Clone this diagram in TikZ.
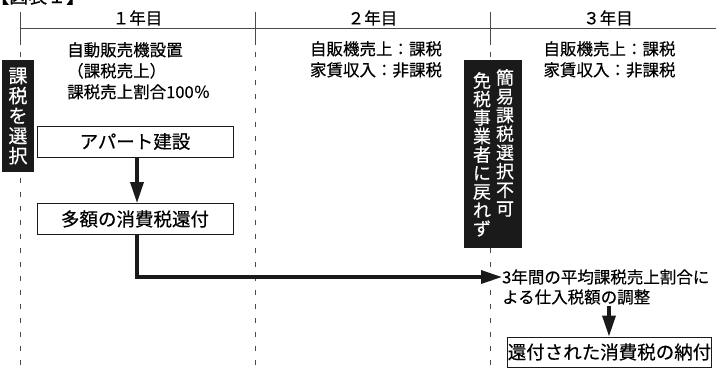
\documentclass[tikz,border=0pt]{standalone}
\usepackage{fontspec}
\setmainfont{Noto Sans CJK JP}[FakeBold=0.35]
\usetikzlibrary{arrows.meta}
\definecolor{ink}{HTML}{1A1A1A}
\definecolor{rule}{HTML}{4A4A4A}
\begin{document}
\begin{tikzpicture}[x=1pt,y=-1pt,
  gridline/.style={draw=rule,line width=0.9pt},
  dashgrid/.style={gridline,dash pattern=on 5pt off 9pt},
  hdr/.style={font=\fontsize{16.5}{18}\selectfont,inner sep=0pt},
  body/.style={font=\fontsize{16.5}{21}\selectfont,inner sep=0pt,align=left},
  flowbox/.style={draw=ink,fill=white,line width=0.9pt,minimum width=196pt,minimum height=31pt,inner sep=0pt,font=\fontsize{18.5}{20}\selectfont},
  blackbox/.style={fill=ink,inner sep=0pt},
  vtext/.style={text=white,inner sep=0pt,align=center},
  bigarrow/.style={draw=ink,line width=3.4pt,-{Triangle[length=21pt,width=13pt]}},
  small/.style={font=\fontsize{16.5}{20}\selectfont,inner sep=0pt}
]
\useasboundingbox (0,0) rectangle (716,368);
\clip (0,0) rectangle (716,368);
\fill[white] (0,0) rectangle (716,368);

% title (cut off at the top)
\node[anchor=south west,font=\fontsize{19}{20}\selectfont,inner sep=0pt] (title) at (-10,5) {【図表１】};

% grid
\draw[gridline] (20,28) -- (716,28);
\foreach \x in {20,255,490}{
  \draw[gridline] (\x,12) -- (\x,45);
  \draw[dashgrid] (\x,52) -- (\x,368);
}

% headers
\node[hdr] (h1) at (137.5,18) {１年目};
\node[hdr] (h2) at (372.5,18) {２年目};
\node[hdr] (h3) at (608,18) {３年目};

% year texts
\node[body,anchor=north west] (y1) at (67,42) {自動販売機設置\\（課税売上）\\課税売上割合100％};
\node[body,anchor=north] (y2) at (376,41) {自販機売上：課税\\家賃収入：非課税};
\node[body,anchor=north] (y3) at (609.5,41) {自販機売上：課税\\家賃収入：非課税};

% black boxes
\node[blackbox,minimum width=32pt,minimum height=112pt] (sel) at (18,116) {};
\node[vtext,font=\fontsize{19}{20}\selectfont] at (sel.center) {課\\税\\を\\選\\択};

\node[blackbox,minimum width=58pt,minimum height=188pt] (nochg) at (493,154) {};
\node[vtext,font=\fontsize{18}{18.7}\selectfont,anchor=north] (c1) at (505,69) {簡\\易\\課\\税\\選\\択\\不\\可};
\node[vtext,font=\fontsize{18}{18.5}\selectfont,anchor=north] (c2) at (482,72) {免\\税\\事\\業\\者\\に\\戻\\れ\\ず};

% flow
\node[flowbox] (a1) at (135,141.5) {アパート建設};
\node[flowbox] (a2) at (135,219) {多額の消費税還付};
\draw[bigarrow] (a1.south -| 137,0) -- (a2.north -| 137,0);

\node[small,anchor=west] (t1) at (502,277) {3年間の平均課税売上割合に};
\node[small,anchor=west] (t2) at (502,297) {よる仕入税額の調整};
\draw[bigarrow] (a2.south -| 137,0) |- (t1.west);

\node[flowbox,minimum width=199pt,minimum height=30pt] (pay) at (609.5,352) {還付された消費税の納付};
\draw[bigarrow] (609,306) -- (pay.north -| 609,0);
\end{tikzpicture}
\end{document}
